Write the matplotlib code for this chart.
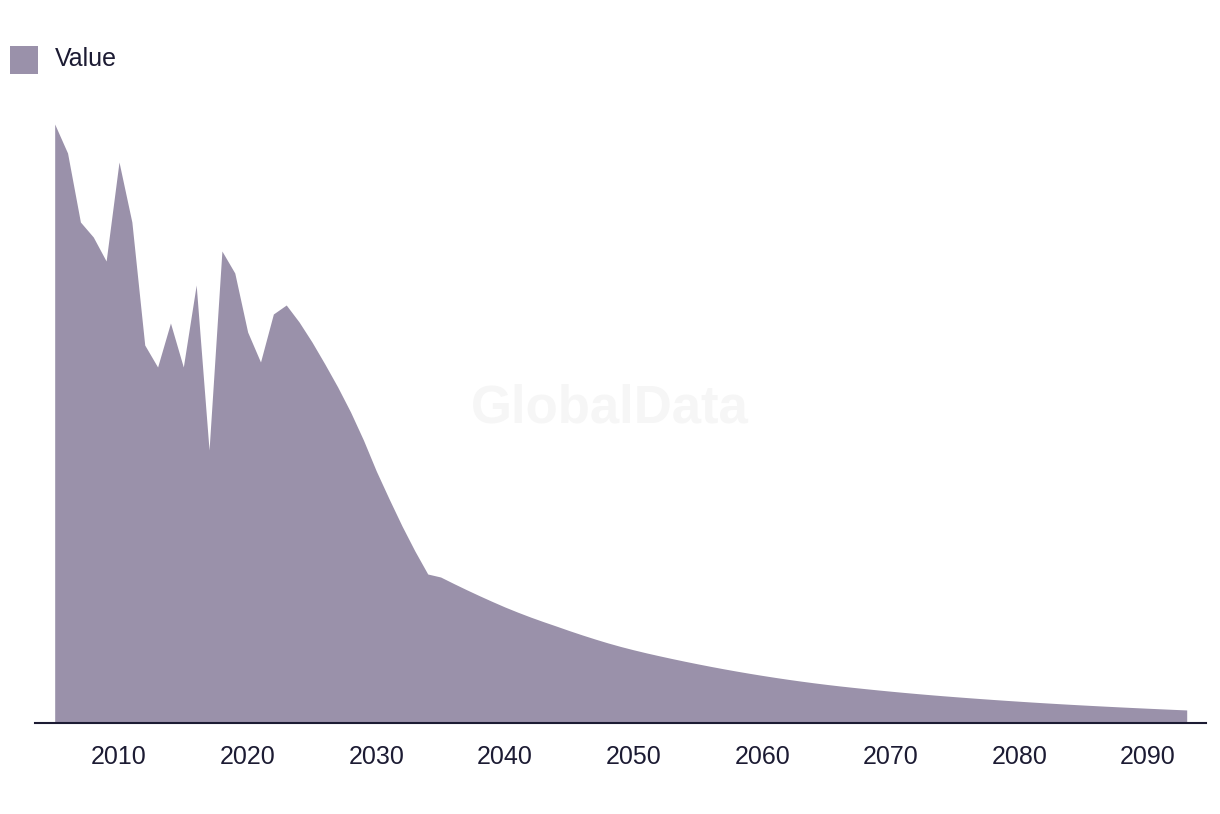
import matplotlib
matplotlib.use("Agg")
import matplotlib.pyplot as plt
from matplotlib.patches import Rectangle

years = list(range(2005, 2094))
values = [
    599, 570, 501, 486, 462, 561, 501, 378, 356, 400,                    # 2005-2014
    356, 438, 273, 472, 450, 391, 361, 409, 418, 401,                    # 2015-2024
    381, 359, 336, 311, 283, 252, 224, 197, 172, 149,                    # 2025-2034
    146, 139.6, 133.4, 127.4, 121.6, 116.0, 110.8, 105.9, 101.3, 96.9,   # 2035-2044
    92.4, 88.1, 84.0, 80.1, 76.5, 73.2, 70.1, 67.2, 64.4, 61.7,          # 2045-2054
    59.1, 56.6, 54.2, 51.9, 49.7, 47.6, 45.6, 43.7, 41.9, 40.2,          # 2055-2064
    38.6, 37.1, 35.7, 34.35, 33.05, 31.8, 30.6, 29.45, 28.35, 27.3,      # 2065-2074
    26.3, 25.33, 24.39, 23.48, 22.6, 21.75, 20.93, 20.14, 19.38, 18.65,  # 2075-2084
    17.95, 17.27, 16.61, 15.97, 15.35, 14.75, 14.17, 13.6, 13.05         # 2085-2093
]
xticks = [2010, 2020, 2030, 2040, 2050, 2060, 2070, 2080, 2090]
series_name = "Value"

fill_color = "#9a91aa"
text_color = "#1c1b33"
font = ["Liberation Sans", "DejaVu Sans"]

W, H = 1220, 814
fig = plt.figure(figsize=(W / 100, H / 100), dpi=100)
ax = fig.add_axes([35 / W, (H - 723) / H, 1171 / W, 620 / H])

ax.fill_between(years, values, 0, color=fill_color, linewidth=0)
ax.set_xlim(2003.47, 2094.5)
ax.set_ylim(0, 620)

for s in ["top", "right", "left"]:
    ax.spines[s].set_visible(False)
ax.spines["bottom"].set_color(text_color)
ax.spines["bottom"].set_linewidth(1.5)
ax.set_yticks([])
ax.set_xticks(xticks)
ax.set_xticklabels([str(t) for t in xticks], fontfamily=font, fontsize=18, color=text_color)
ax.tick_params(axis="x", length=0, pad=16)

# watermark
fig.text(610 / W, 1 - 408 / H, "GlobalData", fontfamily=font, fontweight="bold",
         fontsize=38, color="#f6f6f6", ha="center", va="center", zorder=0)

# legend
fig.add_artist(Rectangle((10 / W, 1 - 74 / H), 28 / W, 28 / H, transform=fig.transFigure,
                         facecolor=fill_color, edgecolor="none"))
fig.text(55 / W, 1 - 59 / H, series_name, fontfamily=font, fontsize=18,
         color=text_color, ha="left", va="center")

fig.savefig("out.png", dpi=100, facecolor="white")
